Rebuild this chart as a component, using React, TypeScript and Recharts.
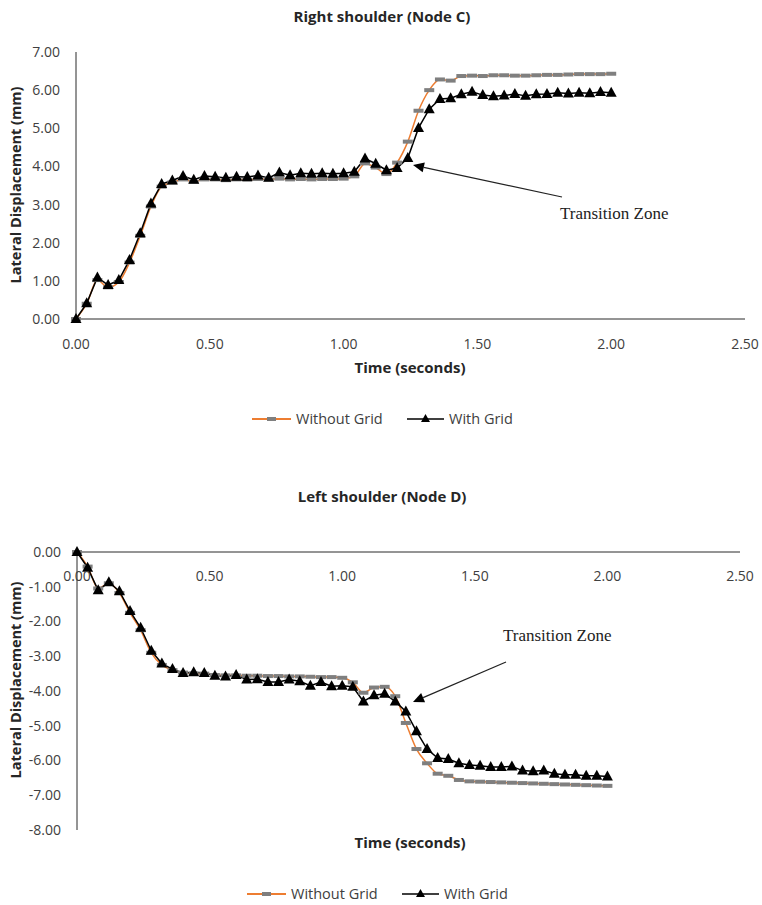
import React from 'react';
import { LineChart, Line, XAxis, YAxis } from 'recharts';

const times = [
  0.0, 0.04, 0.08, 0.12, 0.16, 0.2, 0.24, 0.28, 0.32, 0.36, 0.4, 0.44, 0.48, 0.52, 0.56, 0.6, 0.64,
  0.68, 0.72, 0.76, 0.8, 0.84, 0.88, 0.92, 0.96, 1.0, 1.04, 1.08, 1.12, 1.16, 1.2, 1.24, 1.28, 1.32,
  1.36, 1.4, 1.44, 1.48, 1.52, 1.56, 1.6, 1.64, 1.68, 1.72, 1.76, 1.8, 1.84, 1.88, 1.92, 1.96, 2.0,
];

// Right shoulder (Node C)
const rightWithout = [
  0.0, 0.4, 1.02, 0.83, 0.97, 1.48, 2.18, 2.95, 3.47, 3.58, 3.66, 3.6, 3.66, 3.66, 3.64, 3.66, 3.65,
  3.67, 3.66, 3.68, 3.66, 3.67, 3.66, 3.67, 3.67, 3.68, 3.74, 4.08, 3.97, 3.8, 4.1, 4.65, 5.46, 6.0,
  6.28, 6.25, 6.37, 6.38, 6.37, 6.39, 6.39, 6.38, 6.38, 6.39, 6.4, 6.4, 6.41, 6.42, 6.42, 6.42, 6.43,
];
const rightWith = [
  0.0, 0.41, 1.09, 0.89, 1.02, 1.55, 2.25, 3.03, 3.54, 3.63, 3.75, 3.65, 3.75, 3.73, 3.7, 3.73, 3.72,
  3.76, 3.7, 3.84, 3.77, 3.82, 3.81, 3.82, 3.81, 3.82, 3.86, 4.21, 4.07, 3.9, 3.96, 4.22, 5.01, 5.5,
  5.77, 5.79, 5.89, 5.96, 5.87, 5.84, 5.86, 5.9, 5.85, 5.89, 5.9, 5.93, 5.91, 5.93, 5.92, 5.95, 5.93,
];

// Left shoulder (Node D)
const leftWithout = [
  0.0, -0.42, -1.05, -0.9, -1.18, -1.75, -2.25, -2.9, -3.25, -3.4, -3.47, -3.5, -3.5, -3.54, -3.55,
  -3.55, -3.56, -3.56, -3.57, -3.57, -3.58, -3.58, -3.59, -3.6, -3.6, -3.62, -3.75, -4.05, -3.9, -3.88,
  -4.15, -4.92, -5.67, -6.08, -6.38, -6.44, -6.56, -6.6, -6.61, -6.62, -6.63, -6.64, -6.65, -6.66,
  -6.67, -6.68, -6.69, -6.7, -6.71, -6.72, -6.73,
];
const leftWith = [
  0.0, -0.45, -1.1, -0.87, -1.13, -1.7, -2.18, -2.84, -3.21, -3.37, -3.48, -3.46, -3.48, -3.56, -3.58,
  -3.54, -3.67, -3.66, -3.74, -3.74, -3.67, -3.72, -3.85, -3.74, -3.86, -3.85, -3.88, -4.3, -4.12,
  -4.08, -4.3, -4.59, -5.16, -5.67, -5.93, -5.96, -6.08, -6.13, -6.15, -6.19, -6.19, -6.17, -6.29,
  -6.31, -6.29, -6.38, -6.41, -6.41, -6.44, -6.44, -6.46,
];

const xTicks = [0, 0.5, 1, 1.5, 2, 2.5];
const rightTicks = [0, 1, 2, 3, 4, 5, 6, 7];
const leftTicks = [-8, -7, -6, -5, -4, -3, -2, -1, 0];

const ORANGE = '#ED7D31';
const DASH = '#7F7F7F';
const AXIS = '#2b2b2b';
const TEXT = '#404040';
const FONT = '"Open Sans", sans-serif';

const rightData = times.map((t, i) => ({ t, without: rightWithout[i], with: rightWith[i] }));
const leftData = times.map((t, i) => ({ t, without: leftWithout[i], with: leftWith[i] }));

const fmt = (v: number) => v.toFixed(2);

const DashDot = (props: any) => {
  const { cx, cy } = props;
  if (cx == null || cy == null) return null;
  return <rect x={cx - 5} y={cy - 2} width={10} height={4} fill={DASH} />;
};

const TriDot = (props: any) => {
  const { cx, cy } = props;
  if (cx == null || cy == null) return null;
  return <path d={`M${cx},${cy - 6} L${cx + 5.5},${cy + 4} L${cx - 5.5},${cy + 4} Z`} fill="#000" />;
};

// tick labels drawn under the axis line even though the axis sits on top
const BelowTick = (props: any) => {
  const { x, y, payload } = props;
  return (
    <text x={x} y={y + 29} textAnchor="middle" fill={TEXT} fontSize={14} fontFamily={FONT}>
      {fmt(payload.value)}
    </text>
  );
};

const tickStyle = { fill: TEXT, fontSize: 14, fontFamily: FONT };

const Legend2 = ({ x, y }: { x: number; y: number }) => (
  <g fontFamily={FONT} fontSize={14.5} fill={TEXT}>
    <line x1={x} y1={y} x2={x + 39} y2={y} stroke={ORANGE} strokeWidth={2} />
    <rect x={x + 15} y={y - 2} width={9} height={4} fill={DASH} />
    <text x={x + 44} y={y + 5}>Without Grid</text>
    <line x1={x + 155} y1={y} x2={x + 192} y2={y} stroke="#000" strokeWidth={1.5} />
    <path d={`M${x + 173.5},${y - 5} L${x + 178},${y + 3} L${x + 169},${y + 3} Z`} fill="#000" />
    <text x={x + 197} y={y + 5}>With Grid</text>
  </g>
);

const Arrow = ({ x1, y1, x2, y2 }: { x1: number; y1: number; x2: number; y2: number }) => {
  const a = Math.atan2(y2 - y1, x2 - x1);
  const L = 11;
  const W = 5;
  const bx = x2 - L * Math.cos(a);
  const by = y2 - L * Math.sin(a);
  const px = -Math.sin(a) * W;
  const py = Math.cos(a) * W;
  return (
    <g>
      <line x1={x1} y1={y1} x2={bx} y2={by} stroke="#222" strokeWidth={1.2} />
      <path d={`M${x2},${y2} L${bx + px},${by + py} L${bx - px},${by - py} Z`} fill="#000" />
    </g>
  );
};

export default function App() {
  return (
    <div style={{ position: 'absolute', left: 0, top: 0, width: 762, height: 905, background: '#fff' }}>
      <div style={{ position: 'absolute', left: 0, top: 0 }}>
        <LineChart width={762} height={390} data={rightData} margin={{ top: 52, right: 17, left: 0, bottom: 41 }}>
          <XAxis
            dataKey="t"
            type="number"
            domain={[0, 2.5]}
            ticks={xTicks}
            tickFormatter={fmt}
            axisLine={{ stroke: AXIS }}
            tickLine={false}
            tick={tickStyle}
            tickMargin={14}
            height={30}
          />
          <YAxis
            type="number"
            domain={[0, 7]}
            ticks={rightTicks}
            tickFormatter={fmt}
            axisLine={{ stroke: AXIS }}
            tickLine={false}
            tick={tickStyle}
            tickMargin={10}
            width={76}
          />
          <Line dataKey="without" type="monotone" stroke={ORANGE} strokeWidth={1.5} dot={<DashDot />} isAnimationActive={false} />
          <Line dataKey="with" type="linear" stroke="#000" strokeWidth={1.5} dot={<TriDot />} isAnimationActive={false} />
        </LineChart>
      </div>
      <div style={{ position: 'absolute', left: 0, top: 470 }}>
        <LineChart width={762} height={380} data={leftData} margin={{ top: 81, right: 22, left: 0, bottom: 20 }}>
          <XAxis
            dataKey="t"
            type="number"
            orientation="top"
            domain={[0, 2.5]}
            ticks={xTicks}
            axisLine={{ stroke: AXIS }}
            tickLine={false}
            tickSize={0}
            tickMargin={0}
            tick={<BelowTick />}
            height={1}
          />
          <YAxis
            type="number"
            domain={[-8, 0]}
            ticks={leftTicks}
            tickFormatter={fmt}
            axisLine={{ stroke: AXIS }}
            tickLine={false}
            tick={tickStyle}
            tickMargin={10}
            width={77}
          />
          <Line dataKey="without" type="monotone" stroke={ORANGE} strokeWidth={1.5} dot={<DashDot />} isAnimationActive={false} />
          <Line dataKey="with" type="linear" stroke="#000" strokeWidth={1.5} dot={<TriDot />} isAnimationActive={false} />
        </LineChart>
      </div>
      <svg
        width={762}
        height={905}
        style={{ position: 'absolute', left: 0, top: 0, pointerEvents: 'none' }}
      >
        <g fontFamily={FONT} fontWeight="bold" fill="#262626">
          <text x={382} y={22} textAnchor="middle" fontSize={15}>Right shoulder (Node C)</text>
          <text x={410} y={373} textAnchor="middle" fontSize={15}>Time (seconds)</text>
          <text transform="translate(21,185) rotate(-90)" textAnchor="middle" fontSize={14.5}>Lateral Displacement (mm)</text>
          <text x={382} y={502} textAnchor="middle" fontSize={15}>Left shoulder (Node D)</text>
          <text x={410} y={848} textAnchor="middle" fontSize={15}>Time (seconds)</text>
          <text transform="translate(21,680) rotate(-90)" textAnchor="middle" fontSize={14.5}>Lateral Displacement (mm)</text>
        </g>
        <g fontFamily='"Liberation Serif", serif' fontSize={17} fill="#222">
          <text x={560} y={219}>Transition Zone</text>
          <text x={503} y={641}>Transition Zone</text>
        </g>
        <Arrow x1={562} y1={197} x2={413} y2={165} />
        <Arrow x1={506} y1={662} x2={413} y2={702} />
        <Legend2 x={252} y={419} />
        <Legend2 x={247} y={894} />
      </svg>
    </div>
  );
}
